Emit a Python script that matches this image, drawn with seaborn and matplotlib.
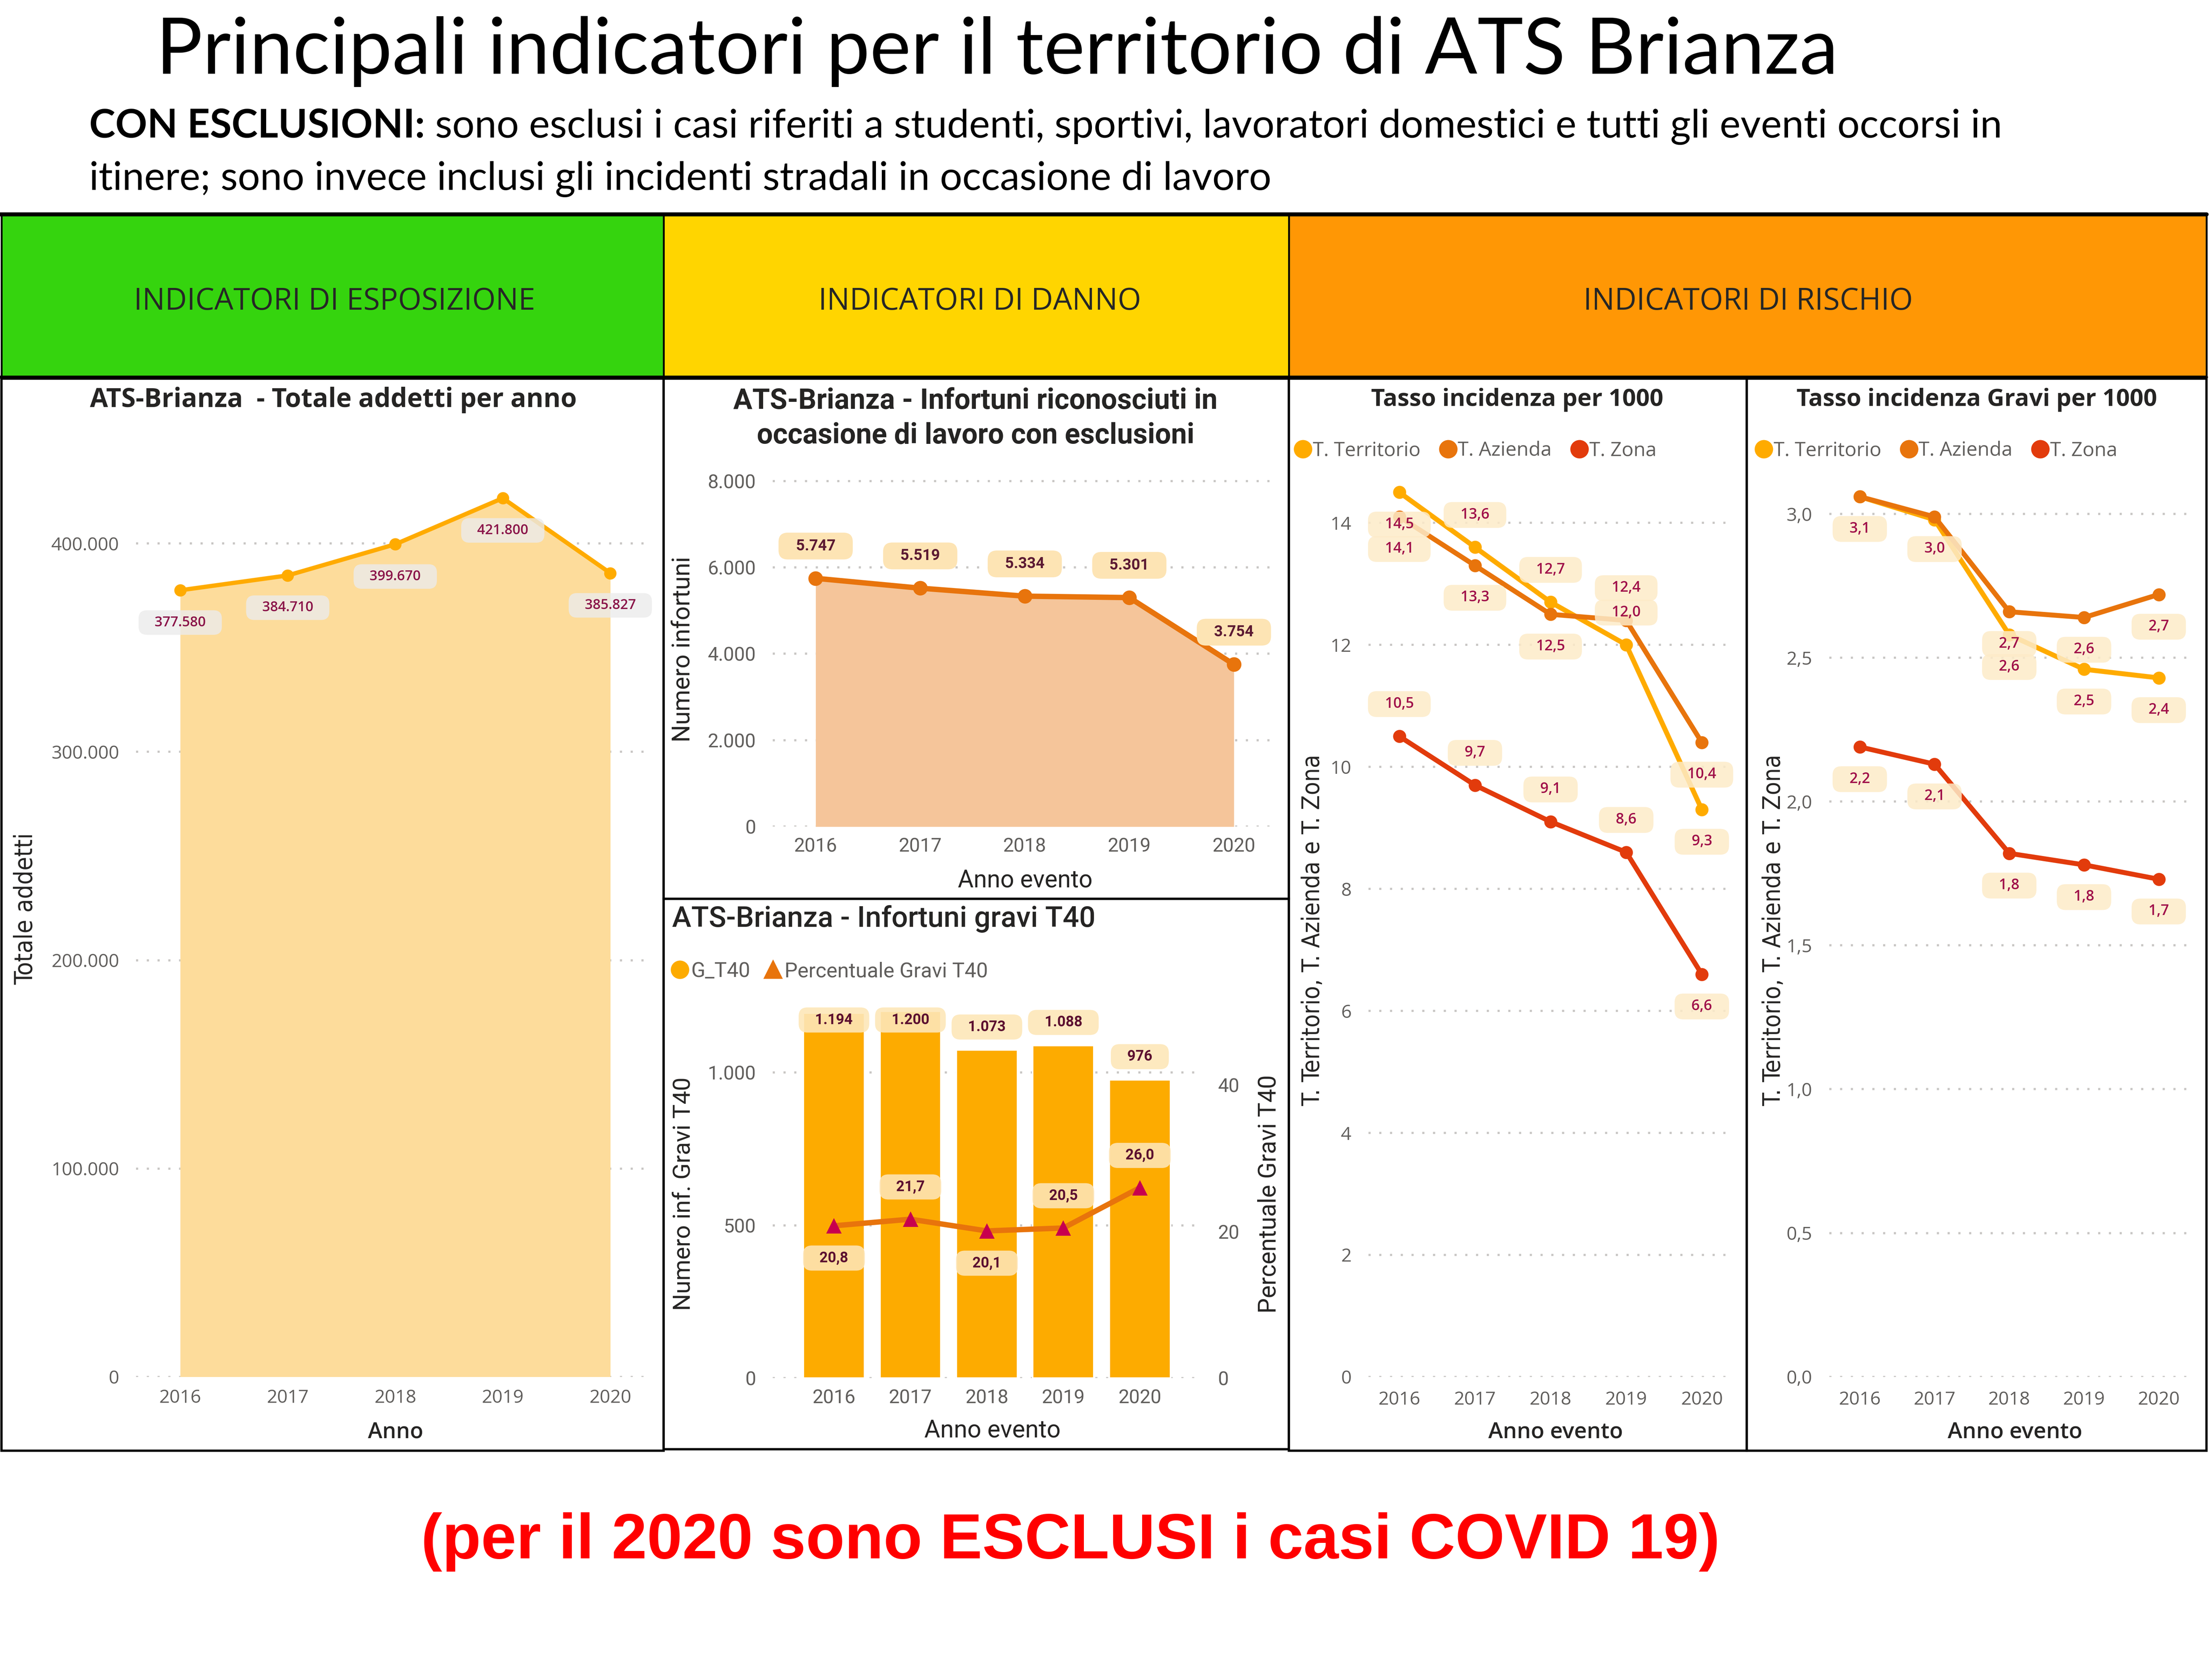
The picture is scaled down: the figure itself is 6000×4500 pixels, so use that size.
import numpy as np
import pandas as pd
import seaborn as sns
import matplotlib.pyplot as plt
from matplotlib.patches import Rectangle
from matplotlib.lines import Line2D
from matplotlib.ticker import FuncFormatter, MultipleLocator

# valori
anni = [2016, 2017, 2018, 2019, 2020]
addetti = [377580, 384710, 399670, 421800, 385827]
infortuni = [5747, 5519, 5334, 5301, 3754]
gravi_t40 = [1194, 1200, 1073, 1088, 976]
perc_gravi_t40 = [20.8, 21.7, 20.1, 20.5, 26.0]
serie = ['T. Territorio', 'T. Azienda', 'T. Zona']
tasso_territorio = [14.5, 13.6, 12.7, 12.0, 9.3]
tasso_azienda = [14.1, 13.3, 12.5, 12.4, 10.4]
tasso_zona = [10.5, 9.7, 9.1, 8.6, 6.6]
gravi_territorio = [3.06, 2.98, 2.58, 2.46, 2.43]
gravi_azienda = [3.06, 2.99, 2.66, 2.64, 2.72]
gravi_zona = [2.19, 2.13, 1.82, 1.78, 1.73]

df_tasso = pd.DataFrame({'anno': anni * 3,
                         'valore': tasso_territorio + tasso_azienda + tasso_zona,
                         'serie': np.repeat(serie, len(anni))})
df_gravi = pd.DataFrame({'anno': anni * 3,
                         'valore': gravi_territorio + gravi_azienda + gravi_zona,
                         'serie': np.repeat(serie, len(anni))})

sns.set_theme(style="white")
plt.rcParams['font.family'] = ['Open Sans', 'DejaVu Sans']

col_serie = {'T. Territorio': '#FFAB00', 'T. Azienda': '#E8740C', 'T. Zona': '#E23B0C'}
GRIGIO = '#605E5C'
SCURO = '#252423'
NARROW = ['Liberation Sans Narrow', 'DejaVu Sans']
DIN = ['Roboto', 'DejaVu Sans']


def it_num(v, dec=0):
    s = f"{v:,.{dec}f}"
    return s.replace(',', 'X').replace('.', ',').replace('X', '.')


fig = plt.figure(figsize=(20, 15), dpi=300)
W, H = 1560, 1170
PX = 6000 / W
renderer = fig.canvas.get_renderer()


def fx(x):
    return x / W


def fy(y):
    return 1 - y / H


def fit(t, target):
    bb = t.get_window_extent(renderer)
    w = bb.height if t.get_rotation() == 90 else bb.width
    t.set_fontsize(t.get_fontsize() * target * PX / w)
    return t


def box(x0, y0, x1, y1, **kw):
    fig.add_artist(Rectangle((fx(x0), fy(y1)), fx(x1) - fx(x0), fy(y0) - fy(y1),
                             transform=fig.transFigure, **kw))


def make_ax(l, t, r, b, size=12):
    ax = fig.add_axes([fx(l), fy(b), fx(r) - fx(l), fy(t) - fy(b)])
    ax.set_facecolor('none')
    for s in ax.spines.values():
        s.set_visible(False)
    ax.grid(axis='y', color='#C8C6C4', linestyle=(0, (1, 4)), linewidth=1.4)
    ax.grid(axis='x', visible=False)
    ax.tick_params(axis='y', length=0, colors=GRIGIO, labelsize=size, pad=11)
    ax.tick_params(axis='x', length=0, colors=GRIGIO, labelsize=size, pad=8)
    ax.set_axisbelow(True)
    return ax


def ticks_font(ax, family):
    for lb in ax.get_xticklabels() + ax.get_yticklabels():
        lb.set_family(family)


def label_ax(ax, xl, xpos, xw, yl, ypos, yw, family, stretch='normal'):
    ax.set_xlabel(xl, color=SCURO, family=family, fontsize=13)
    ax.xaxis.set_label_coords(fx(xpos[0]), fy(xpos[1]), transform=fig.transFigure)
    ax.xaxis.label.set_va('center')
    fit(ax.xaxis.label, xw)
    ax.set_ylabel(yl, color=SCURO, family=family, fontsize=14, fontstretch=stretch)
    ax.yaxis.set_label_coords(fx(ypos[0]), fy(ypos[1]), transform=fig.transFigure)
    ax.yaxis.label.set_va('center')
    fit(ax.yaxis.label, yw)


def etichetta(ax, x, y, testo, dy, fc, tc, size=9.5, family=None, alpha=1.0):
    ax.annotate(f"   {testo}   ", (x, y), xytext=(0, dy), textcoords='offset points',
                ha='center', va='center', fontsize=size, color=tc, fontweight='semibold',
                family=family,
                bbox=dict(boxstyle='round,pad=0.38,rounding_size=0.6', fc=fc, ec='none', alpha=alpha),
                zorder=6, annotation_clip=False)


# ---- testi in alto ----
t = fig.text(fx(110), fy(52), "Principali indicatori per il territorio di ATS Brianza",
             family=['Lato', 'DejaVu Sans'], fontsize=50, color='black', va='baseline')
fit(t, 1187)

b1 = fig.text(fx(63), fy(97), "CON ESCLUSIONI:", family=['Lato', 'DejaVu Sans'],
              fontweight='bold', fontsize=22, va='baseline', color='black')
r1 = fig.text(fx(63), fy(97), " sono esclusi i casi riferiti a studenti, sportivi, lavoratori domestici e tutti gli eventi occorsi in",
              family=['Lato', 'DejaVu Sans'], fontsize=22, va='baseline', color='black')
wtot = (b1.get_window_extent(renderer).width + r1.get_window_extent(renderer).width) / PX
k = 1350 / wtot
b1.set_fontsize(22 * k)
r1.set_fontsize(22 * k)
r1.set_x(fx(63) + b1.get_window_extent(renderer).width / 6000)
fig.text(fx(63), fy(134), "itinere; sono invece inclusi gli incidenti stradali in occasione di lavoro",
         family=['Lato', 'DejaVu Sans'], fontsize=22 * k, va='baseline', color='black')

# ---- intestazioni ----
box(1, 151, 468, 266, fc='#35D40E', ec='black', lw=1.2)
box(468, 151, 909, 266, fc='#FFD500', ec='black', lw=1.2)
box(909, 151, 1556, 266, fc='#FF9705', ec='black', lw=1.2)
fig.add_artist(Line2D([fx(0), fx(1556)], [fy(151), fy(151)], transform=fig.transFigure, color='black', lw=2.6))
fig.add_artist(Line2D([fx(0), fx(1556)], [fy(266), fy(266)], transform=fig.transFigure, color='black', lw=2.0))
h1 = fig.text(fx(236), fy(213), "INDICATORI DI ESPOSIZIONE", ha='center', va='center', fontsize=16,
              color='#262626')
fit(h1, 283)
fig.text(fx(691), fy(213), "INDICATORI DI DANNO", ha='center', va='center', fontsize=h1.get_fontsize(), color='#262626')
fig.text(fx(1233), fy(213), "INDICATORI DI RISCHIO", ha='center', va='center', fontsize=h1.get_fontsize(), color='#262626')

# cornici dei pannelli
for x0, y0, x1, y1 in [(1, 267, 468, 1023), (468, 267, 909, 634), (468, 634, 909, 1022),
                       (909, 267, 1232, 1023), (1232, 267, 1556, 1023)]:
    box(x0, y0, x1, y1, fc='none', ec='black', lw=1.5)

# ---- pannello 1: addetti ----
ax1 = make_ax(96, 329, 460, 971)
ax1.fill_between(anni, addetti, color='#FDDC9B', lw=0, zorder=1)
sns.lineplot(x=anni, y=addetti, color='#FFAB00', lw=2.8, marker='o', markersize=8,
             markeredgewidth=0, ax=ax1, zorder=3)
ax1.set_xlim(2015.59, 2020.39)
ax1.set_ylim(0, 437000)
ax1.yaxis.set_major_locator(MultipleLocator(100000))
ax1.yaxis.set_major_formatter(FuncFormatter(lambda v, p: it_num(v)))
ax1.set_xticks(anni)
ax1.set_xticklabels([str(a) for a in anni])
for a, v in zip(anni, addetti):
    etichetta(ax1, a, v, it_num(v), -21, '#ECECEC', '#8A1449', size=9, alpha=0.8)
label_ax(ax1, "Anno", (279, 1010), 39, "Totale addetti", (18, 641), 107, NARROW, 'condensed')
ax1.xaxis.label.set_family(['Open Sans', 'DejaVu Sans'])
ax1.xaxis.label.set_fontweight('semibold')
fit(ax1.xaxis.label, 39)
t1 = fig.text(fx(235), fy(282), "ATS-Brianza  - Totale addetti per anno", ha='center', va='center',
              fontweight='bold', color=SCURO, fontsize=14)
fit(t1, 344)

# ---- pannello 2: infortuni ----
ax2 = make_ax(545, 327, 896, 583, size=12.5)
ax2.fill_between(anni, infortuni, color='#F5C59A', lw=0, zorder=1)
sns.lineplot(x=anni, y=infortuni, color='#E8740C', lw=3.5, marker='o', markersize=9.5,
             markeredgewidth=0, ax=ax2, zorder=3)
ax2.set_xlim(2015.59, 2020.35)
ax2.set_ylim(0, 8400)
ax2.yaxis.set_major_locator(MultipleLocator(2000))
ax2.yaxis.set_major_formatter(FuncFormatter(lambda v, p: it_num(v)))
ax2.set_xticks(anni)
ax2.set_xticklabels([str(a) for a in anni])
ax2.tick_params(axis='x', pad=7)
ticks_font(ax2, DIN)
for a, v in zip(anni, infortuni):
    etichetta(ax2, a, v, it_num(v), 21, '#FDE4B4', '#5C1A33', size=10, family=DIN)
label_ax(ax2, "Anno evento", (723, 621), 95, "Numero infortuni", (482, 458), 131, DIN)
tt = fig.text(fx(688), fy(283), "ATS-Brianza - Infortuni riconosciuti in", ha='center', va='center',
              family=DIN, fontweight='bold', color=SCURO, fontsize=15)
fit(tt, 342)
fig.text(fx(688), fy(307), "occasione di lavoro con esclusioni", ha='center', va='center',
         family=DIN, fontweight='bold', color=SCURO, fontsize=tt.get_fontsize())

# ---- pannello 3: gravi T40 ----
ax3 = make_ax(545, 712, 847, 972, size=12.5)
sns.barplot(x=anni, y=gravi_t40, native_scale=True, width=0.8, color='#FDAB00',
            saturation=1, ax=ax3, zorder=2)
ax3.set_xlim(2015.2, 2020.8)
ax3.set_ylim(0, 1205)
ax3.yaxis.set_major_locator(MultipleLocator(500))
ax3.yaxis.set_major_formatter(FuncFormatter(lambda v, p: it_num(v)))
ax3.set_xticks(anni)
ax3.set_xticklabels([str(a) for a in anni])
ax3.tick_params(axis='x', pad=7)
ticks_font(ax3, DIN)
for a, v in zip(anni, gravi_t40):
    etichetta(ax3, a, min(v + 75, 1171), it_num(v), 0, '#FDE7B8', '#5C1030', size=9.5,
              family=DIN, alpha=0.9)

ax3b = ax3.twinx()
sns.lineplot(x=anni, y=perc_gravi_t40, color='#E8740C', lw=3.5, marker='^', markersize=10,
             markeredgewidth=0, ax=ax3b, zorder=4)
ax3b.lines[-1].set_markerfacecolor('#C8004E')
ax3b.set_ylim(0, 50.3)
ax3b.set_yticks([0, 20, 40])
ax3b.grid(False)
for s in ax3b.spines.values():
    s.set_visible(False)
ax3b.tick_params(axis='y', length=0, colors=GRIGIO, labelsize=12.5, pad=11)
ticks_font(ax3b, DIN)
for a, v, d in zip(anni, perc_gravi_t40, [-1, 1, -1, 1, 1]):
    etichetta(ax3b, a, v, it_num(v, 1), 21 * d, '#FDE4B4', '#5C1030', size=9.5, family=DIN, alpha=0.9)
label_ax(ax3, "Anno evento", (700, 1009), 96, "Numero inf. Gravi T40", (482, 842), 165, DIN)
ax3b.set_ylabel("Percentuale Gravi T40", color=SCURO, family=DIN, fontsize=14)
ax3b.yaxis.set_label_coords(fx(895), fy(842), transform=fig.transFigure)
ax3b.yaxis.label.set_va('center')
fit(ax3b.yaxis.label, 168)
t3 = fig.text(fx(474), fy(648), "ATS-Brianza - Infortuni gravi T40", ha='left', va='center',
              family=DIN, fontweight='medium', color=SCURO, fontsize=15)
fit(t3, 299)
h3 = [Line2D([], [], marker='o', color='#FDAB00', ls='', markersize=11),
      Line2D([], [], marker='^', color='#E8740C', ls='', markersize=11)]
ax3.legend(h3, ['G_T40', 'Percentuale Gravi T40'], loc='center left',
           bbox_to_anchor=(fx(472), fy(685)), bbox_transform=fig.transFigure, ncol=2,
           frameon=False, handletextpad=0.05, columnspacing=0.6, handlelength=1.0,
           borderpad=0, borderaxespad=0, prop={'family': DIN, 'size': 13.5}, labelcolor=GRIGIO)


# ---- pannelli 4 e 5: tassi ----
def pannello_tasso(l, r, df, ylim, step, dec_tick, pos, mostra, xcen, titolo, tcen, twidth):
    ax = make_ax(l, 330, r, 971)
    sns.lineplot(data=df, x='anno', y='valore', hue='serie', hue_order=serie, palette=col_serie,
                 lw=3.2, marker='o', markersize=8.5, markeredgewidth=0, legend=False, ax=ax, zorder=3)
    ax.set_xlim(2015.59, 2020.39)
    ax.set_ylim(0, ylim)
    ax.yaxis.set_major_locator(MultipleLocator(step))
    ax.yaxis.set_major_formatter(FuncFormatter(lambda v, p: it_num(v, dec_tick)))
    ax.set_xticks(anni)
    ax.set_xticklabels([str(a) for a in anni])
    ax.tick_params(axis='x', pad=9)
    for s in serie:
        sub = df[df['serie'] == s]
        for a, v, d, m in zip(sub['anno'], sub['valore'], pos[s], mostra[s]):
            if m:
                etichetta(ax, a, v, it_num(v, 1), 21 * d, '#FDEBC8', '#A0104A', size=9.5, alpha=0.85)
    label_ax(ax, "Anno evento", (xcen, 1010), 95, "T. Territorio, T. Azienda e T. Zona",
             (l - 39, 656), 248, NARROW, 'condensed')
    ax.xaxis.label.set_family(['Open Sans', 'DejaVu Sans'])
    ax.xaxis.label.set_fontweight('semibold')
    fit(ax.xaxis.label, 95)
    tx = fig.text(fx(tcen), fy(282), titolo, ha='center', va='center', fontweight='bold',
                  color=SCURO, fontsize=13)
    fit(tx, twidth)
    hh = [Line2D([], [], marker='o', color=col_serie[s], ls='', markersize=11) for s in serie]
    ax.legend(hh, serie, loc='center left', bbox_to_anchor=(fx(l - 53), fy(318)),
              bbox_transform=fig.transFigure, ncol=3, frameon=False, handletextpad=0.0,
              columnspacing=0.9, handlelength=1.0, borderpad=0, borderaxespad=0,
              prop={'size': 12.8}, labelcolor=GRIGIO)
    return ax


pos4 = {'T. Territorio': [-1, 1, 1, 1, -1], 'T. Azienda': [-1, -1, -1, 1, -1], 'T. Zona': [1, 1, 1, 1, -1]}
mostra4 = {s: [True] * 5 for s in serie}
ax4 = pannello_tasso(965, 1221, df_tasso, 14.9, 2, 0, pos4, mostra4, 1097,
                     "Tasso incidenza per 1000", 1070, 206)

pos5 = {s: [-1] * 5 for s in serie}
mostra5 = {'T. Territorio': [False, False, True, True, True], 'T. Azienda': [True] * 5, 'T. Zona': [True] * 5}
ax5 = pannello_tasso(1290, 1543, df_gravi, 3.16, 0.5, 1, pos5, mostra5, 1421,
                     "Tasso incidenza Gravi per 1000", 1394, 254)

# ---- nota finale ----
nf = fig.text(fx(755), fy(1099), "(per il 2020 sono ESCLUSI i casi COVID 19)", ha='center', va='baseline',
              color='#FF0000', fontweight='bold', family=['Liberation Sans', 'DejaVu Sans'], fontsize=34)
fit(nf, 915)

fig.savefig('out.png', dpi=300, facecolor='white')
